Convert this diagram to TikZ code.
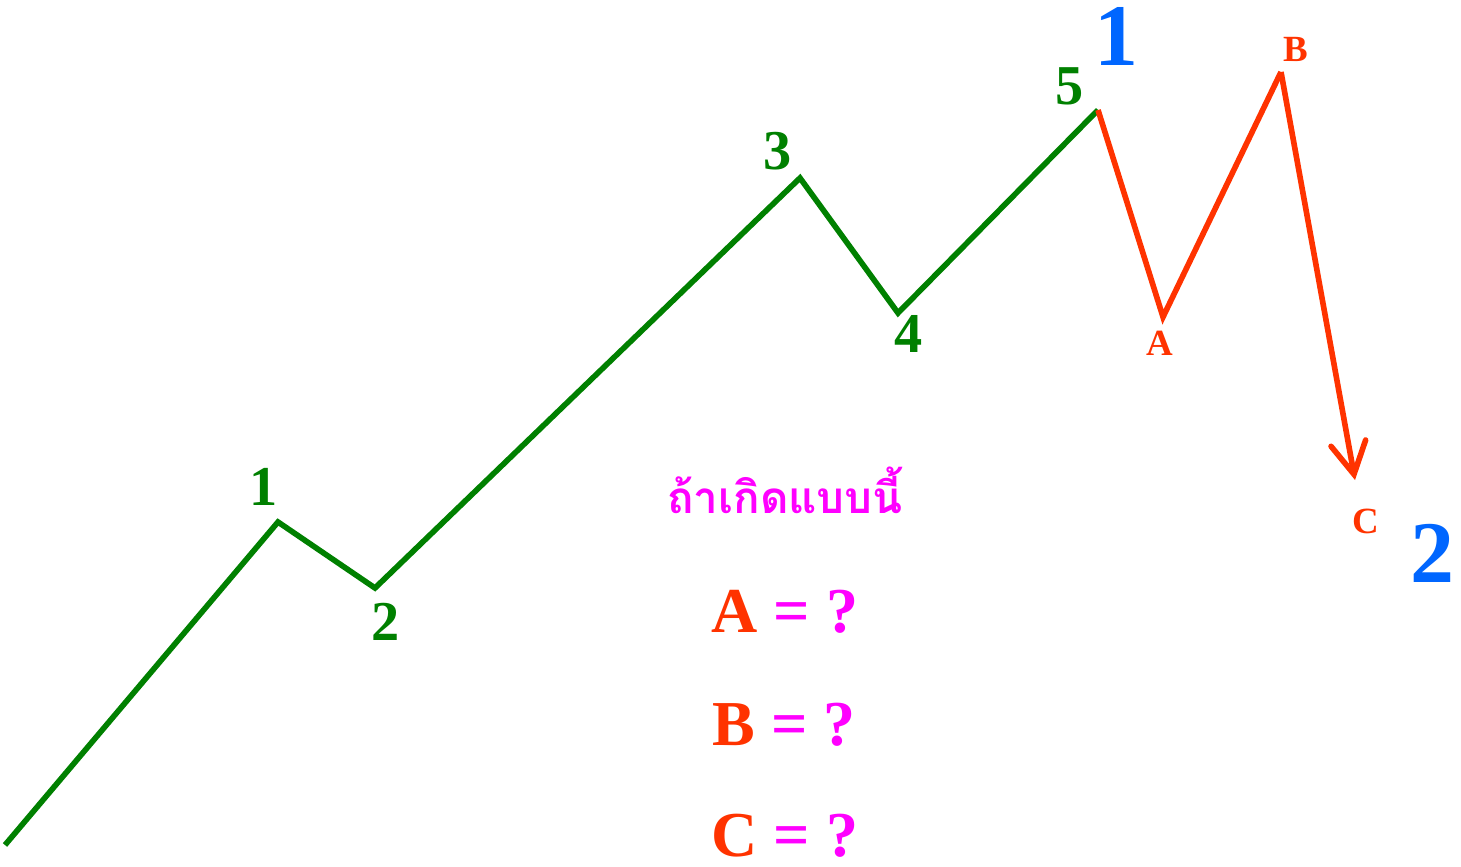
\documentclass[tikz,border=0pt]{standalone}
\usepackage{fontspec}
\setmainfont{Liberation Serif}
\newfontfamily\thaifont[Script=Thai]{Loma}
\usetikzlibrary{arrows.meta,positioning}
\definecolor{wavegreen}{RGB}{0,128,0}
\definecolor{corrred}{RGB}{255,51,0}
\definecolor{degblue}{RGB}{0,102,255}
\definecolor{askpink}{RGB}{255,0,255}
\tikzset{
  impulse/.style={draw=wavegreen, line width=1.6pt, line join=miter},
  correction/.style={draw=corrred, line width=1.6pt, line join=miter},
  wavelbl/.style={text=wavegreen, font=\bfseries\fontsize{16}{18}\selectfont, inner sep=0pt},
  abclbl/.style={text=corrred, font=\bfseries\fontsize{10.5}{12}\selectfont, inner sep=0pt},
  degreelbl/.style={text=degblue, font=\bfseries\fontsize{25}{28}\selectfont, inner sep=0pt},
  question/.style={font=\bfseries\fontsize{18.2}{21}\selectfont, inner sep=0pt},
  tipbarb/.style={-{Straight Barb[length=9pt,width=10pt,line cap=round]}}
}
\begin{document}
\begin{tikzpicture}[x=0.01cm,y=-0.01cm]
  \useasboundingbox (0,0) rectangle (1461,867);
  % wave points
  \coordinate (p0) at (5,845);
  \coordinate (p1) at (278,522);
  \coordinate (p2) at (375,588);
  \coordinate (p3) at (800,178);
  \coordinate (p4) at (898,313);
  \coordinate (p5) at (1098,110);
  \coordinate (pa) at (1163,317);
  \coordinate (pb) at (1281,72);
  \coordinate (pc) at (1355,480);
  \draw[impulse] (p0)--(p1)--(p2)--(p3)--(p4)--(p5);
  \draw[correction] (p5)--(pa)--(pb);
  \draw[correction, tipbarb] (pb)--(pc);
  % labels
  \node[wavelbl] (l1) at (264,487) {1};
  \node[wavelbl] (l2) at (386,622) {2};
  \node[wavelbl] (l3) at (778,151) {3};
  \node[wavelbl] (l4) at (909,334) {4};
  \node[wavelbl] (l5) at (1070,86) {5};
  \node[abclbl] (la) at (1160,343) {A};
  \node[abclbl] (lb) at (1296,49) {B};
  \node[abclbl] (lc) at (1366,521) {C};
  \node[degreelbl] (d1) at (1116,36) {1};
  \node[degreelbl] (d2) at (1432,553) {2};
  % question
  \node[text=askpink, font=\thaifont\bfseries\fontsize{12.5}{15}\selectfont, inner sep=0pt] (ask) at (785,490) {ถ้าเกิดแบบนี้};
  \node[question] (qa) at (785,612) {\textcolor{corrred}{A} \textcolor{askpink}{= ?}};
  \node[question] (qb) at (784,725) {\textcolor{corrred}{B} \textcolor{askpink}{= ?}};
  \node[question] (qc) at (785,836) {\textcolor{corrred}{C} \textcolor{askpink}{= ?}};
\end{tikzpicture}
\end{document}
